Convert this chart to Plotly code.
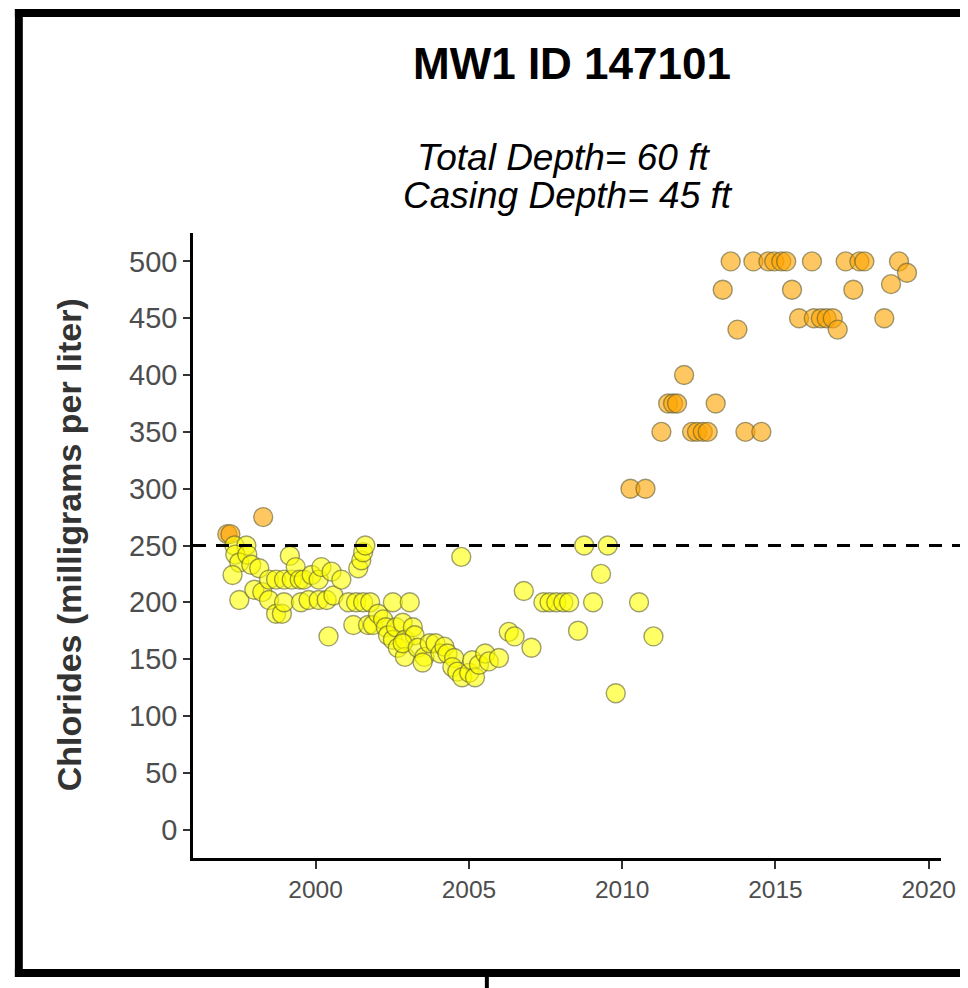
import plotly.graph_objects as go

# ---- data ----
years = [
    1997.12, 1997.22, 1998.29,
    1997.35, 1997.74, 1997.38, 1997.51, 1997.77, 1997.90, 1997.29, 1998.16, 1997.51, 1998.00,
    1998.26, 1998.48, 1998.48, 1998.71, 1998.71, 1998.90, 1998.97, 1998.97, 1999.16, 1999.22,
    1999.35, 1999.48, 1999.52, 1999.61, 1999.77, 1999.87, 2000.10, 2000.10, 2000.19, 2000.36,
    2000.42, 2000.52, 2000.58, 2000.84, 2001.07, 2001.23, 2001.32, 2001.39, 2001.49, 2001.55,
    2001.62, 2001.55, 2001.78, 2001.71, 2001.87, 2002.04, 2002.20, 2002.29, 2002.36, 2002.52,
    2002.52, 2002.62, 2002.68, 2002.84, 2002.91, 2002.91, 2003.07, 2003.17, 2003.23, 2002.84,
    2003.33, 2003.55, 2003.49, 2003.72, 2003.91, 2004.07, 2004.20, 2004.30, 2004.52, 2004.46,
    2004.62, 2004.75, 2004.78, 2005.01, 2005.11, 2005.20, 2005.33, 2005.53, 2005.65, 2005.98,
    2006.30, 2006.49, 2006.79, 2007.04, 2007.43, 2007.63, 2007.85, 2008.08, 2008.27, 2008.56,
    2008.76, 2009.05, 2009.31, 2009.53, 2009.79, 2010.27, 2010.55, 2010.76, 2011.02,
    2011.28, 2011.50, 2011.66, 2011.79, 2012.02, 2012.28, 2012.44, 2012.63, 2012.79, 2013.05,
    2013.28, 2013.54, 2013.76, 2014.02, 2014.28, 2014.54, 2014.77, 2014.96, 2015.19, 2015.35,
    2015.54, 2015.77, 2016.19, 2016.25, 2016.48, 2016.67, 2016.87, 2017.03, 2017.29, 2017.54,
    2017.74, 2017.90, 2018.55, 2018.77, 2019.03, 2019.29,
]
chlorides = [
    260, 260, 275,
    250, 250, 242, 235, 242, 233, 224, 230, 202, 211,
    209, 220, 202, 220, 190, 190, 200, 220, 241, 220,
    231, 220, 200, 220, 202, 224, 220, 202, 231, 202,
    170, 227, 206, 220, 200, 180, 200, 230, 237, 244,
    250, 200, 200, 180, 180, 190, 185, 178, 171, 200,
    167, 178, 160, 182, 167, 152, 200, 178, 171, 164,
    160, 152, 147, 164, 164, 155, 161, 155, 151, 143,
    139, 240, 134, 138, 149, 134, 145, 155, 148, 151,
    174, 170, 210, 160, 200, 200, 200, 200, 200, 175,
    250, 200, 225, 250, 120, 300, 200, 300, 170,
    350, 375, 375, 375, 400, 350, 350, 350, 350, 375,
    475, 500, 440, 350, 500, 350, 500, 500, 500, 500,
    475, 450, 500, 450, 450, 450, 450, 440, 500, 475,
    500, 500, 450, 480, 500, 490,
]
threshold = 250
x_ticks = [2000, 2005, 2010, 2015, 2020]
y_ticks = [0, 50, 100, 150, 200, 250, 300, 350, 400, 450, 500]

title_text = "MW1 ID 147101"
sub1 = "Total Depth= 60 ft"
sub2 = "Casing Depth= 45 ft"
ytitle = "Chlorides (milligrams per liter)"

# ---- layout geometry (page pixels; the page body adds an 8px offset) ----
OFF = 8
W, H = 960, 980
L, R, T, B = 193 - OFF, 949 - OFF, 233 - OFF, 858 - OFF
pw, ph = R - L, B - T

def px(x):  # page x -> paper
    return (x - OFF - L) / pw

def py(y):  # page y -> paper
    return (B - (y - OFF)) / ph

colors = ["rgba(255,165,0,0.62)" if v > threshold else "rgba(255,255,0,0.6)" for v in chlorides]

fig = go.Figure()
fig.add_trace(go.Scatter(
    x=years, y=chlorides, mode="markers",
    marker=dict(size=19, color=colors,
                line=dict(color="rgba(95,95,55,0.6)", width=1.4)),
    showlegend=False, hoverinfo="x+y",
))

font = "Liberation Sans, Arial, sans-serif"

fig.update_layout(
    width=W, height=H,
    margin=dict(l=L, r=W - R, t=T, b=H - B),
    paper_bgcolor="white", plot_bgcolor="white",
    xaxis=dict(range=[1996.0, 2020.4], tickvals=x_ticks, showgrid=False, zeroline=False,
               showline=True, linecolor="black", linewidth=2.5,
               ticks="outside", ticklen=8, tickwidth=2, tickcolor="#333333",
               tickfont=dict(family=font, size=24.5, color="#4d4d4d")),
    yaxis=dict(range=[-25, 525], tickvals=y_ticks, showgrid=False, zeroline=False,
               showline=True, linecolor="black", linewidth=2.5,
               ticks="outside", ticklen=7, tickwidth=2, tickcolor="#333333",
               tickfont=dict(family=font, size=29, color="#4d4d4d")),
)

# dashed threshold line
fig.add_shape(type="line", xref="paper", yref="y", x0=0, x1=1.05, y0=threshold, y1=threshold,
              line=dict(color="black", width=2.8, dash="13px,10px"))

# titles
fig.add_annotation(text="<b>%s</b>" % title_text, xref="paper", yref="paper",
                   x=px(576), y=py(63), showarrow=False, xanchor="center", yanchor="middle",
                   font=dict(family=font, size=44, color="black"))
fig.add_annotation(text="<i>%s</i>" % sub1, xref="paper", yref="paper",
                   x=px(567), y=py(157), showarrow=False, xanchor="center", yanchor="middle",
                   font=dict(family=font, size=37, color="black"))
fig.add_annotation(text="<i>%s</i>" % sub2, xref="paper", yref="paper",
                   x=px(572), y=py(195), showarrow=False, xanchor="center", yanchor="middle",
                   font=dict(family=font, size=37, color="black"))
fig.add_annotation(text="<b>%s</b>" % ytitle, xref="paper", yref="paper",
                   x=px(68), y=py(545), showarrow=False, xanchor="center", yanchor="middle",
                   textangle=-90, font=dict(family=font, size=34, color="#333333"))

# outer black frame (page pixel boxes)
frame = [
    (13, 9, 21, 977),     # left
    (13, 9, 990, 17),     # top
    (13, 969, 990, 977),  # bottom
    (488, 977, 492, 995), # stub
]
for x0, y0, x1, y1 in frame:
    fig.add_shape(type="rect", xref="paper", yref="paper",
                  x0=px(x0), x1=px(x1), y0=py(y1), y1=py(y0),
                  line=dict(width=0), fillcolor="black", layer="above")

fig.write_html("out.html")
